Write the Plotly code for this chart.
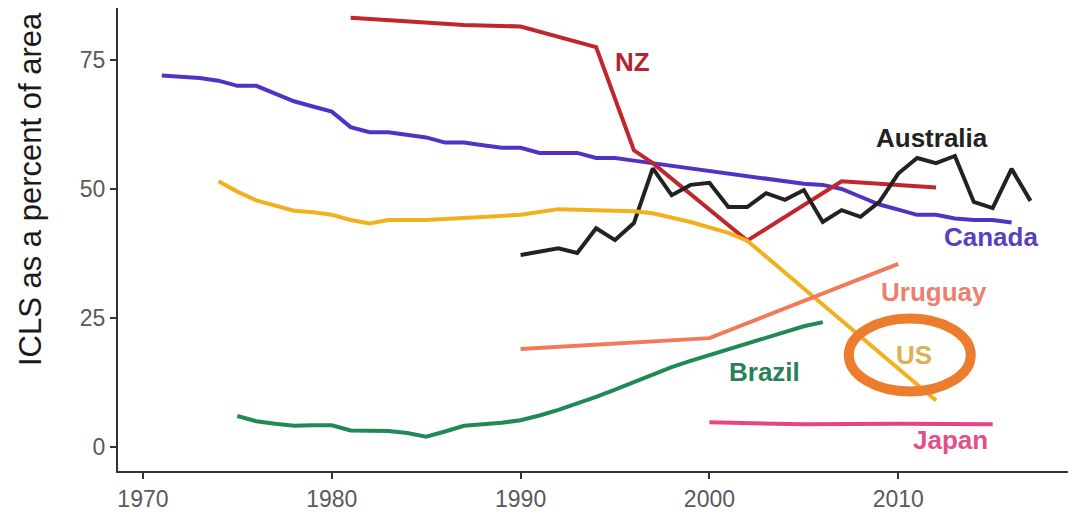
import plotly.graph_objects as go

# ---- data ----
canada_years = list(range(1971, 2017))
canada_vals = [72, 71.8, 71.5, 71, 70, 70, 68.5, 67, 66, 65,
               62, 61, 61, 60.5, 60, 59, 59, 58.5, 58, 58,
               57, 57, 57, 56, 56, 55.5, 55, 54.5, 54, 53.5,
               53, 52.5, 52, 51.5, 51, 50.8, 50, 48.5, 47, 46,
               45, 45, 44.3, 44, 44, 43.5]

nz_years = [1981, 1985, 1987, 1990, 1994, 1996, 1997, 2002, 2007, 2012]
nz_vals = [83.2, 82.3, 81.8, 81.5, 77.5, 57.5, 55, 40, 51.5, 50.3]

australia_years = list(range(1990, 2018))
australia_vals = [37.2, 37.8, 38.5, 37.6, 42.4, 40.1, 43.4, 54, 48.8, 50.8,
                  51.2, 46.5, 46.5, 49.2, 47.9, 49.8, 43.6, 45.9, 44.6, 47.5,
                  53, 56, 55, 56.4, 47.5, 46.3, 53.9, 47.7]

us_years = [1974, 1975, 1976, 1977, 1978, 1979, 1980, 1981, 1982, 1983, 1985,
            1990, 1992, 1996, 1997, 1999, 2000, 2001, 2002, 2012]
us_vals = [51.5, 49.5, 47.8, 46.8, 45.8, 45.5, 45, 44, 43.3, 44, 44,
           45, 46.1, 45.7, 45.3, 43.6, 42.5, 41.5, 40, 9]

uruguay_years = [1990, 2000, 2010]
uruguay_vals = [19, 21.1, 35.5]

brazil_years = list(range(1975, 2007))
brazil_vals = [6, 5, 4.5, 4.1, 4.2, 4.2, 3.2, 3.1, 3.1, 2.7, 2.0, 3.0, 4.1, 4.4,
               4.7, 5.2, 6.1, 7.2, 8.4, 9.7, 11.1, 12.6, 14.1, 15.5, 16.7, 17.8,
               19, 20.2, 21.3, 22.4, 23.4, 24.2]

japan_years = [2000, 2005, 2010, 2015]
japan_vals = [4.8, 4.4, 4.5, 4.4]

x_ticks = [1970, 1980, 1990, 2000, 2010]
y_ticks = [0, 25, 50, 75]

y_title = "ICLS as a percent of area"

series = [
    ("Canada", canada_years, canada_vals, "#5232c4"),
    ("NZ", nz_years, nz_vals, "#c0262c"),
    ("Australia", australia_years, australia_vals, "#222222"),
    ("US", us_years, us_vals, "#f2b01e"),
    ("Uruguay", uruguay_years, uruguay_vals, "#f07a5a"),
    ("Brazil", brazil_years, brazil_vals, "#1f8a55"),
    ("Japan", japan_years, japan_vals, "#e6457f"),
]

# label name, x, y, colour
labels = [
    ("NZ", 1995.9, 74.6, "#b5252f"),
    ("Australia", 2011.8, 59.9, "#222222"),
    ("Canada", 2014.9, 40.7, "#5a3fbf"),
    ("Uruguay", 2011.9, 30.0, "#ec8070"),
    ("US", 2010.85, 17.8, "#ddb050"),
    ("Brazil", 2002.9, 14.6, "#2a8058"),
    ("Japan", 2012.75, 1.4, "#e2508a"),
]

fig = go.Figure()
for name, xs, ys, col in series:
    fig.add_trace(go.Scatter(x=xs, y=ys, mode="lines", name=name,
                             line=dict(color=col, width=4),
                             showlegend=False))

for text, lx, ly, col in labels:
    fig.add_annotation(x=lx, y=ly, xref="x", yref="y", text=f"<b>{text}</b>",
                       showarrow=False,
                       font=dict(family="Liberation Sans, Arial", size=26, color=col))

# y axis title (placed as rotated text; the original plot's top is cropped)
fig.add_annotation(x=-0.0922, y=0.609, xref="paper", yref="paper",
                   text=y_title, textangle=-90, showarrow=False,
                   xanchor="center", yanchor="middle",
                   font=dict(family="Liberation Sans, Arial", size=31, color="#1a1a1a"))

# highlight ellipse around US label
fig.add_shape(type="circle", xref="x", yref="y",
              x0=2007.38, x1=2013.84, y0=10.76, y1=24.9,
              line=dict(color="#ec7c2e", width=10))

# y axis line continues to the top edge of the picture
fig.add_shape(type="line", xref="paper", yref="paper",
              x0=0, x1=0, y0=1, y1=1.03,
              line=dict(color="#333333", width=2))

fig.update_layout(
    width=1068, height=511,
    margin=dict(l=110, r=4, t=0, b=48, pad=0),
    paper_bgcolor="white", plot_bgcolor="white",
    font=dict(family="Liberation Sans, Arial", color="#4d4d4d"),
)
fig.update_xaxes(range=[1968.68, 2019.2], tickvals=x_ticks,
                 ticktext=[str(v) for v in x_ticks],
                 showgrid=False, zeroline=False, automargin=False,
                 showline=True, linecolor="#333333", linewidth=2,
                 ticks="outside", ticklen=6, tickwidth=2, tickcolor="#333333",
                 tickfont=dict(size=23, color="#5a5a5a"))
fig.update_yaxes(range=[-4.65, 85.08], tickvals=y_ticks,
                 ticktext=[str(v) for v in y_ticks],
                 showgrid=False, zeroline=False, automargin=False,
                 showline=True, linecolor="#333333", linewidth=2,
                 ticks="outside", ticklen=6, tickwidth=2, tickcolor="#333333",
                 tickfont=dict(size=23, color="#5a5a5a"))

fig.write_html("out.html")
